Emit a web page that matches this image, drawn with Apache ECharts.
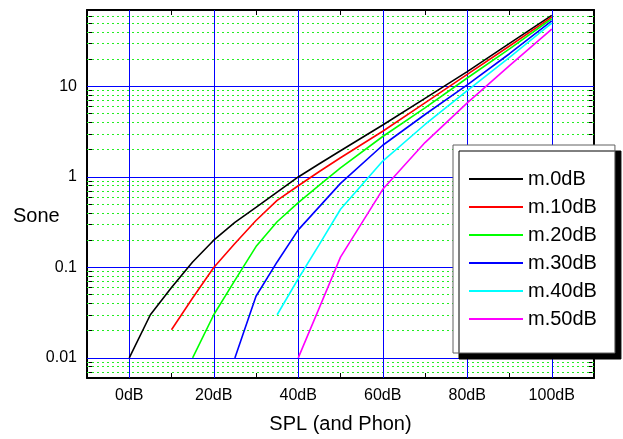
<!DOCTYPE html>
<html>
<head>
<meta charset="utf-8">
<script src="https://cdn.jsdelivr.net/npm/echarts@6/dist/echarts.min.js"></script>
<style>
html,body{margin:0;padding:0;background:#fff;}
#chart{width:623px;height:439px;}
</style>
</head>
<body>
<div id="chart"></div>
<script>
// ---- data ----
const spl = [0, 5, 10, 15, 20, 25, 30, 35, 40, 45, 50, 60, 70, 80, 90, 100];
const m0dB  = [0.01, 0.03, 0.06, 0.115, 0.2, 0.315, 0.46, 0.68, 1.0, 1.4, 1.95, 3.75, 7.4, 14.6, 30, 61];
const m10dB = [null, null, 0.0205, 0.046, 0.1, 0.184, 0.33, 0.55, 0.8, 1.15, 1.63, 3.2, 6.6, 13.6, 28, 58.5];
const m20dB = [null, null, null, 0.01, 0.03, 0.072, 0.17, 0.32, 0.52, 0.81, 1.26, 2.8, 5.8, 12.4, 26, 56];
const m30dB = [null, null, null, null, null, 0.01, 0.048, 0.115, 0.26, 0.47, 0.85, 2.24, 4.9, 10.4, 23, 53];
const m40dB = [null, null, null, null, null, null, null, 0.03, 0.075, 0.18, 0.44, 1.5, 3.8, 9.0, 21, 50];
const m50dB = [null, null, null, null, null, null, null, null, 0.01, 0.036, 0.13, 0.73, 2.4, 6.6, 17, 43];
const seriesNames = ['m.0dB', 'm.10dB', 'm.20dB', 'm.30dB', 'm.40dB', 'm.50dB'];
const xTickValues = [0, 20, 40, 60, 80, 100];
const yTickValues = [0.01, 0.1, 1, 10];
const yMinorValues = [0.007, 0.008, 0.009,
  0.02, 0.03, 0.04, 0.05, 0.06, 0.07, 0.08, 0.09,
  0.2, 0.3, 0.4, 0.5, 0.6, 0.7, 0.8, 0.9,
  2, 3, 4, 5, 6, 7, 8, 9,
  20, 30, 40, 50, 60];

// ---- styling ----
const FONT = '"Liberation Sans", Arial, Helvetica, sans-serif';
const colors = ['#000000', '#ff0000', '#00ff00', '#0000ff', '#00ffff', '#ff00ff'];
const allSeries = [m0dB, m10dB, m20dB, m30dB, m40dB, m50dB];

const chart = echarts.init(document.getElementById('chart'), null, {renderer: 'canvas'});

const xBase = {type: 'value', min: -10, max: 110, interval: 10, gridIndex: 0};
const yBase = {type: 'log', logBase: 10, min: 0.006, max: 70, gridIndex: 0};

const gridLines = [];
yMinorValues.forEach(v => gridLines.push({yAxis: v, lineStyle: {color: '#22ee22', width: 1, type: [2, 3]}}));
yTickValues.forEach(v => gridLines.push({yAxis: v, lineStyle: {color: '#0000ff', width: 1, type: 'solid'}}));
xTickValues.forEach(v => gridLines.push({xAxis: v, lineStyle: {color: '#0000ff', width: 1, type: 'solid'}}));

const series = [{
  name: '__grid',
  type: 'line',
  data: [],
  silent: true,
  z: 1,
  markLine: {
    silent: true,
    z: 1,
    precision: 6,
    symbol: ['none', 'none'],
    label: {show: false},
    animation: false,
    emphasis: {disabled: true},
    data: gridLines
  }
}];
allSeries.forEach((arr, i) => {
  series.push({
    name: seriesNames[i],
    type: 'line',
    xAxisIndex: 0,
    yAxisIndex: 0,
    data: spl.map((x, k) => [x, arr[k]]),
    symbol: 'none',
    showSymbol: false,
    color: colors[i],
    lineStyle: {color: colors[i], width: 1.6},
    itemStyle: {color: colors[i]},
    z: 3,
    emphasis: {disabled: true}
  });
});

const option = {
  animation: false,
  backgroundColor: '#ffffff',
  textStyle: {fontFamily: FONT},
  grid: {left: 87, right: 29, top: 10, bottom: 57, containLabel: false},
  xAxis: [
    Object.assign({}, xBase, {
      position: 'bottom',
      name: 'SPL (and Phon)',
      nameLocation: 'middle',
      nameGap: 36,
      nameTextStyle: {fontSize: 20, color: '#000', fontFamily: FONT},
      axisLine: {show: true, onZero: false, lineStyle: {color: '#000', width: 2}},
      axisTick: {show: true, inside: true, length: 5, lineStyle: {color: '#000', width: 1}},
      axisLabel: {
        show: true, margin: 10, fontSize: 16, color: '#000', fontFamily: FONT,
        formatter: v => (xTickValues.indexOf(Math.round(v)) >= 0 ? Math.round(v) + 'dB' : '')
      },
      splitLine: {show: false}
    }),
    Object.assign({}, xBase, {
      position: 'top',
      axisLine: {show: true, onZero: false, lineStyle: {color: '#000', width: 2}},
      axisTick: {show: true, inside: true, length: 5, lineStyle: {color: '#000', width: 1}},
      axisLabel: {show: false},
      splitLine: {show: false}
    }),
    Object.assign({}, xBase, {
      position: 'bottom',
      axisLine: {show: false, onZero: false},
      axisTick: {show: true, inside: true, length: 8, customValues: xTickValues, lineStyle: {color: '#000', width: 1}},
      axisLabel: {show: false},
      splitLine: {show: false}
    }),
    Object.assign({}, xBase, {
      position: 'top',
      axisLine: {show: false, onZero: false},
      axisTick: {show: true, inside: true, length: 8, customValues: xTickValues, lineStyle: {color: '#000', width: 1}},
      axisLabel: {show: false},
      splitLine: {show: false}
    })
  ],
  yAxis: [
    Object.assign({}, yBase, {
      position: 'left',
      axisLine: {show: true, onZero: false, lineStyle: {color: '#000', width: 2}},
      axisTick: {show: true, inside: true, length: 9, lineStyle: {color: '#000', width: 1}},
      axisLabel: {
        show: true, margin: 10, fontSize: 16, color: '#000', fontFamily: FONT,
        showMinLabel: false, showMaxLabel: false,
        formatter: v => {
          for (const t of yTickValues) { if (Math.abs(v - t) / t < 1e-6) return String(t); }
          return '';
        }
      },
      splitLine: {show: false}
    }),
    Object.assign({}, yBase, {
      position: 'right',
      axisLine: {show: true, onZero: false, lineStyle: {color: '#000', width: 2}},
      axisTick: {show: true, inside: true, length: 9, lineStyle: {color: '#000', width: 1}},
      axisLabel: {show: false},
      splitLine: {show: false}
    }),
    Object.assign({}, yBase, {
      position: 'left',
      axisLine: {show: false, onZero: false},
      axisTick: {show: true, inside: true, length: 5, customValues: yMinorValues, lineStyle: {color: '#000', width: 1}},
      axisLabel: {show: false},
      splitLine: {show: false}
    }),
    Object.assign({}, yBase, {
      position: 'right',
      axisLine: {show: false, onZero: false},
      axisTick: {show: true, inside: true, length: 5, customValues: yMinorValues, lineStyle: {color: '#000', width: 1}},
      axisLabel: {show: false},
      splitLine: {show: false}
    })
  ],
  legend: {
    show: true,
    data: seriesNames,
    orient: 'vertical',
    left: 453,
    top: 145,
    padding: [24, 18, 24, 16],
    itemGap: 8,
    itemWidth: 54,
    itemHeight: 2,
    icon: 'rect',
    selectedMode: false,
    backgroundColor: '#ffffff',
    borderColor: '#606060',
    borderWidth: 1,
    shadowColor: '#000000',
    shadowBlur: 0,
    shadowOffsetX: 6,
    shadowOffsetY: 6,
    textStyle: {fontSize: 20, color: '#000', fontFamily: FONT, lineHeight: 20}
  },
  graphic: [{
    type: 'text',
    left: 13,
    top: 206,
    silent: true,
    style: {text: 'Sone', fontSize: 20, fill: '#000', fontFamily: FONT}
  }],
  series: series
};
chart.setOption(option);

// If this ECharts build ignores axisTick.customValues, hide the helper tick axes.
try {
  const model = chart.getModel();
  const xt = model.getComponent('xAxis', 2).axis.getTicksCoords();
  const yt = model.getComponent('yAxis', 2).axis.getTicksCoords();
  const xOk = xt.length === xTickValues.length;
  const yOk = yt.length === yMinorValues.length;
  if (!xOk || !yOk) {
    chart.setOption({
      xAxis: [{}, {}, {axisTick: {show: xOk}}, {axisTick: {show: xOk}}],
      yAxis: [{}, {}, {axisTick: {show: yOk}}, {axisTick: {show: yOk}}]
    });
  }
} catch (e) {
  chart.setOption({
    xAxis: [{}, {}, {axisTick: {show: false}}, {axisTick: {show: false}}],
    yAxis: [{}, {}, {axisTick: {show: false}}, {axisTick: {show: false}}]
  });
}
</script>
</body>
</html>
